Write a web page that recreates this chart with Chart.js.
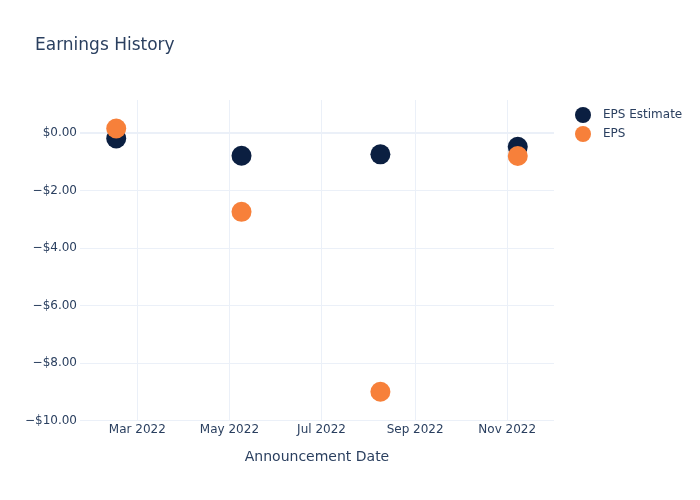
<!DOCTYPE html>
<html>
<head>
<meta charset="utf-8">
<script src="https://cdn.jsdelivr.net/npm/chart.js@4.4.1/dist/chart.umd.min.js"></script>
<style>
  html, body { margin: 0; padding: 0; background: #fff; }
  #wrap { width: 700px; height: 500px; }
</style>
</head>
<body>
<div id="wrap"><canvas id="epsChart" width="700" height="500"></canvas></div>
<script>
// ── data ──
const announceDates = ['2022-02-15', '2022-05-09', '2022-08-09', '2022-11-08'];
const epsEstimate   = [-0.18, -0.78, -0.73, -0.47];
const epsActual     = [0.17, -2.73, -8.99, -0.79];
const monthTicks    = ['2022-03-01', '2022-05-01', '2022-07-01', '2022-09-01', '2022-11-01'];
const yTicks        = [-10, -8, -6, -4, -2, 0];
const xRange        = ['2022-01-22', '2022-12-02'];
const yRange        = [-10, 1.16];

const TEXT  = '#2a3f5f';
const GRID  = '#ebf0f8';
const NAVY  = '#0b1f41';
const ORNG  = '#f7803a';
const FONT  = 'DejaVu Sans';
const MONTHS = ['Jan','Feb','Mar','Apr','May','Jun','Jul','Aug','Sep','Oct','Nov','Dec'];

const ts = s => Date.parse(s + 'T00:00:00Z');

function money(v) {
  const s = '$' + Math.abs(v).toFixed(2);
  return v < 0 ? '\u2212' + s : s;
}

// nudge the title right of the y labels, and draw a plotly-ish legend
const sideLegend = {
  id: 'sideLegend',
  afterLayout(chart) {
    if (chart.titleBlock) chart.titleBlock.left = 35;
  },
  afterDraw(chart) {
    const { ctx } = chart;
    ctx.save();
    ctx.font = `12px "${FONT}"`;
    ctx.textBaseline = 'middle';
    ctx.textAlign = 'left';
    chart.data.datasets.forEach((ds, i) => {
      const y = 115 + i * 19;
      ctx.beginPath();
      ctx.arc(583, y, 8, 0, Math.PI * 2);
      ctx.fillStyle = ds.backgroundColor;
      ctx.fill();
      ctx.fillStyle = TEXT;
      ctx.fillText(ds.label, 603, y);
    });
    ctx.restore();
  }
};

const ctx = document.getElementById('epsChart').getContext('2d');
new Chart(ctx, {
  type: 'scatter',
  data: {
    datasets: [
      {
        label: 'EPS Estimate',
        data: announceDates.map((d, i) => ({ x: ts(d), y: epsEstimate[i] })),
        backgroundColor: NAVY,
        borderWidth: 0,
        pointRadius: 10,
        pointHoverRadius: 10,
        order: 1,
      },
      {
        label: 'EPS',
        data: announceDates.map((d, i) => ({ x: ts(d), y: epsActual[i] })),
        backgroundColor: ORNG,
        borderWidth: 0,
        pointRadius: 10,
        pointHoverRadius: 10,
        order: 0,
      }
    ]
  },
  options: {
    responsive: false,
    animation: false,
    layout: { padding: { left: 25, right: 146, top: 0, bottom: 34 } },
    scales: {
      x: {
        type: 'linear',
        min: ts(xRange[0]),
        max: ts(xRange[1]),
        afterBuildTicks: s => { s.ticks = monthTicks.map(d => ({ value: ts(d) })); },
        ticks: {
          autoSkip: false,
          maxRotation: 0,
          padding: 2,
          color: TEXT,
          font: { family: FONT, size: 12 },
          callback: v => {
            const d = new Date(v);
            return MONTHS[d.getUTCMonth()] + ' ' + d.getUTCFullYear();
          }
        },
        grid: { color: GRID, drawTicks: false },
        border: { display: false },
        title: {
          display: true,
          text: 'Announcement Date',
          color: TEXT,
          font: { family: FONT, size: 14 },
          padding: { top: 10, bottom: 0 }
        }
      },
      y: {
        min: yRange[0],
        max: yRange[1],
        afterBuildTicks: s => { s.ticks = yTicks.map(v => ({ value: v })); },
        afterFit: s => { s.width = 55; },
        ticks: {
          padding: 3,
          color: TEXT,
          font: { family: FONT, size: 12 },
          callback: v => money(v)
        },
        grid: {
          color: GRID,
          lineWidth: c => (c.tick && c.tick.value === 0 ? 2 : 1),
          drawTicks: false
        },
        border: { display: false }
      }
    },
    plugins: {
      legend: { display: false },
      tooltip: { enabled: false },
      title: {
        display: true,
        text: 'Earnings History',
        align: 'start',
        color: TEXT,
        font: { family: FONT, size: 17, weight: 'normal' },
        padding: { top: 35, bottom: 44.6 }
      }
    }
  },
  plugins: [sideLegend]
});
</script>
</body>
</html>
